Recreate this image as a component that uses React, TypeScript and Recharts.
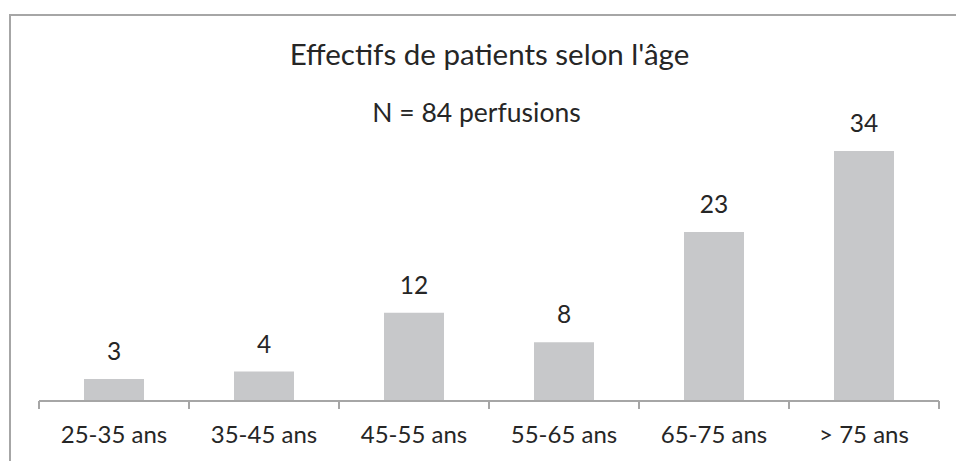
import React from "react";
import { BarChart, Bar, XAxis, YAxis, LabelList } from "recharts";

const ageGroups = ["25-35 ans", "35-45 ans", "45-55 ans", "55-65 ans", "65-75 ans", "> 75 ans"];
const patientCounts = [3, 4, 12, 8, 23, 34];
const yDomain = [0, 40];

const chartTitle = "Effectifs de patients selon l'âge";
const chartSubtitle = "N = 84 perfusions";

const data = ageGroups.map((age, i) => ({ age, count: patientCounts[i] }));

const W = 956;
const H = 461;
const FONT = "Lato, 'Open Sans', sans-serif";
const TEXT = "#262626";
const AXIS = "#a6a6a6";

// Excel puts the ticks between categories, so draw them at the band edges
const AgeTick = (props: any) => {
  const { x, payload, index, visibleTicksCount } = props;
  const half = payload?.offset || 75;
  const axisY = 401;
  return (
    <g>
      <line x1={x - half} x2={x - half} y1={axisY} y2={axisY + 8} stroke={AXIS} strokeWidth={2} />
      {index === visibleTicksCount - 1 && (
        <line x1={x + half} x2={x + half} y1={axisY} y2={axisY + 8} stroke={AXIS} strokeWidth={2} />
      )}
      <text x={x} y={443} textAnchor="middle" fill={TEXT} fontSize={24} fontFamily={FONT}>
        {payload.value}
      </text>
    </g>
  );
};

export default function App() {
  return (
    <div style={{ position: "fixed", left: 0, top: 0, width: W, height: H, overflow: "hidden", background: "#fff" }}>
      <svg width={W} height={H} style={{ position: "absolute", left: 0, top: 0 }}>
        <path d={`M10,${H} L10,15 L${W},15`} fill="none" stroke={AXIS} strokeWidth={2} />
      </svg>
      <div style={{ position: "absolute", left: 0, top: 0 }}>
        <BarChart width={W} height={H} data={data} margin={{ top: 107, right: 17, bottom: 0, left: 39 }}>
          <XAxis
            dataKey="age"
            height={60}
            interval={0}
            axisLine={{ stroke: AXIS, strokeWidth: 2 }}
            tickLine={false}
            tick={<AgeTick />}
          />
          <YAxis hide domain={yDomain} />
          <Bar dataKey="count" fill="#c7c8ca" barSize={60} isAnimationActive={false}>
            <LabelList dataKey="count" position="top" offset={19} fill={TEXT} fontSize={24.5} fontFamily={FONT} />
          </Bar>
        </BarChart>
      </div>
      <svg width={W} height={H} style={{ position: "absolute", left: 0, top: 0, pointerEvents: "none" }}>
        <text x={489.5} y={65} textAnchor="middle" fill={TEXT} fontSize={29.5} fontFamily={FONT}>
          {chartTitle}
        </text>
        <text x={476.5} y={122} textAnchor="middle" fill={TEXT} fontSize={26.5} fontFamily={FONT}>
          {chartSubtitle}
        </text>
      </svg>
    </div>
  );
}
